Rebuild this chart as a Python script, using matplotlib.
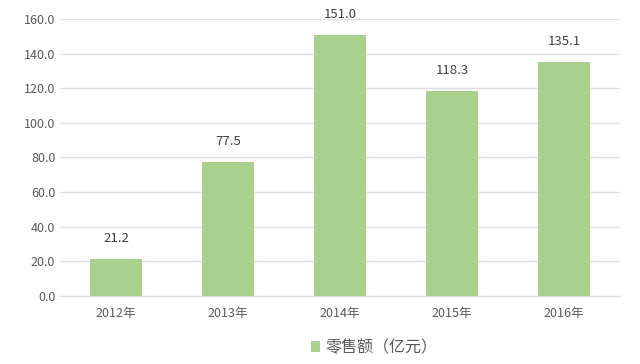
import matplotlib.pyplot as plt

plt.rcParams['font.family'] = ['Noto Sans CJK SC', 'DejaVu Sans']

years = ['2012年', '2013年', '2014年', '2015年', '2016年']
sales = [21.2, 77.5, 151.0, 118.3, 135.1]

fig = plt.figure(figsize=(6.4, 3.64), dpi=100)
ax = fig.add_axes([0.094, 0.187, 0.875, 0.761])

bars = ax.bar(range(len(years)), sales, width=0.47, color='#a9d18e', label='零售额（亿元）', zorder=3)
for b, v in zip(bars, sales):
    ax.text(b.get_x() + b.get_width() / 2, v + 8, f'{v:.1f}', ha='center', va='bottom',
            fontsize=9.5, color='#404040')

ax.set_ylim(0, 160)
ax.set_xlim(-0.5, 4.5)
ax.set_yticks(range(0, 161, 20))
ax.set_yticklabels([f'{t:.1f}' for t in range(0, 161, 20)])
ax.set_xticks(range(len(years)))
ax.set_xticklabels(years)
ax.tick_params(axis='both', length=0, labelsize=9, labelcolor='#595959')
ax.tick_params(axis='x', pad=8)
ax.grid(axis='y', color='#e0e0e0', linewidth=1, zorder=0)
for s in ['top', 'right', 'left']:
    ax.spines[s].set_visible(False)
ax.spines['bottom'].set_color('#d9d9d9')

fig.legend(loc='center', bbox_to_anchor=(0.584, 0.045), frameon=False, fontsize=11.5,
           handlelength=0.6, handleheight=0.6, handletextpad=0.3, labelcolor='#595959')

fig.savefig('out.png', dpi=100)
